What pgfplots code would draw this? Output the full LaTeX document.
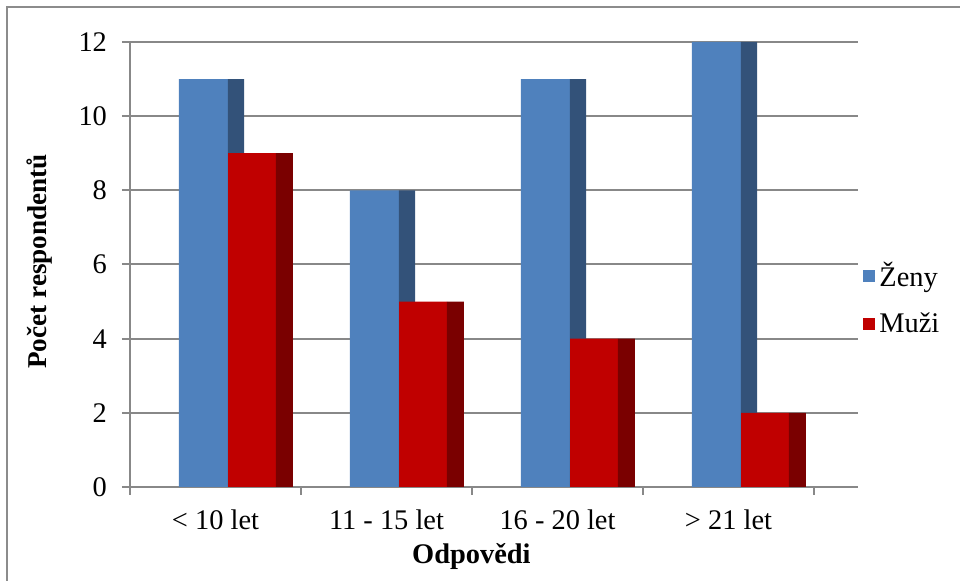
\documentclass[border=0pt]{standalone}
\usepackage{fontspec}
\setmainfont{Liberation Serif}
\usepackage{pgfplots}
\pgfplotsset{compat=1.18}

\definecolor{zenyFront}{HTML}{4F81BD}
\definecolor{zenySide}{HTML}{335279}
\definecolor{muziFront}{HTML}{C00000}
\definecolor{muziSide}{HTML}{7A0000}
\definecolor{gridGray}{HTML}{888888}
\definecolor{frameGray}{HTML}{8C8C8C}

\newcommand{\chartfont}{\fontsize{14.2}{17}\selectfont}
\newcommand{\yfont}{\fontsize{13.6}{16}\selectfont}

\begin{document}
\begin{tikzpicture}
  % page extent and chart frame
  \useasboundingbox (-65pt,-47pt) rectangle (415pt,243.5pt);
  \draw[frameGray, line width=0.6pt] (-61.5pt,-60pt) -- (-61.5pt,240pt) -- (430pt,240pt);

  \begin{axis}[
    at={(0pt,0pt)}, anchor=south west,
    scale only axis, width=364pt, height=222.5pt,
    xmin=0, xmax=4.2573, ymin=0, ymax=12,
    axis x line*=bottom, axis y line*=left,
    axis line style={draw=gridGray, line width=1pt, -},
    ytick={0,2,...,12},
    ymajorgrids,
    grid style={draw=gridGray, line width=1pt},
    % category boundaries carry the tick marks, the labels sit between them
    xtick={0,1,2,3,4},
    xticklabels={},
    extra x ticks={0.5,1.5,2.5,3.5},
    extra x tick labels={{< 10 let},{11 - 15 let},{16 - 20 let},{> 21 let}},
    extra x tick style={major tick length=0pt, grid=none,
      xticklabel style={anchor=base, yshift=-21.5pt}},
    tick align=outside,
    major tick length=4pt,
    tick style={draw=gridGray, line width=1pt},
    /pgf/number format/assume math mode=true,
    tick label style={font=\chartfont},
    yticklabel style={anchor=east, xshift=-4pt},
    xlabel={\textbf{Odpovědi}},
    ylabel={\textbf{Počet respondentů}},
    xlabel style={font=\chartfont, at={(axis description cs:0.469,-0.173)}, anchor=base},
    ylabel style={font=\yfont, at={(axis description cs:-0.1236,0.507)}, anchor=center},
    legend style={at={(axis description cs:1.0069,0.515)}, anchor=north west,
      draw=none, fill=none, font=\chartfont, row sep=7.5pt, inner sep=0pt},
    legend cell align=left,
  ]
    % Ženy: front face and shaded side face
    \addplot[ybar, bar width=0.2865, bar shift=-0.0702, fill=zenyFront, draw=none,
      legend image code/.code={\fill[zenyFront] (0pt,-2.8pt) rectangle (6pt,2.8pt);}]
      coordinates {(0.5,11) (1.5,8) (2.5,11) (3.5,12)};
    \addlegendentry{Ženy}
    \addplot[ybar, bar width=0.0936, bar shift=0.1199, fill=zenySide, draw=none, forget plot]
      coordinates {(0.5,11) (1.5,8) (2.5,11) (3.5,12)};
    % Muži: front face and shaded side face
    \addplot[ybar, bar width=0.2807, bar shift=0.2135, fill=muziFront, draw=none,
      legend image code/.code={\fill[muziFront] (0pt,-2.8pt) rectangle (6pt,2.8pt);}]
      coordinates {(0.5,9) (1.5,5) (2.5,4) (3.5,2)};
    \addlegendentry{Muži}
    \addplot[ybar, bar width=0.0994, bar shift=0.4035, fill=muziSide, draw=none, forget plot]
      coordinates {(0.5,9) (1.5,5) (2.5,4) (3.5,2)};
  \end{axis}
\end{tikzpicture}
\end{document}
